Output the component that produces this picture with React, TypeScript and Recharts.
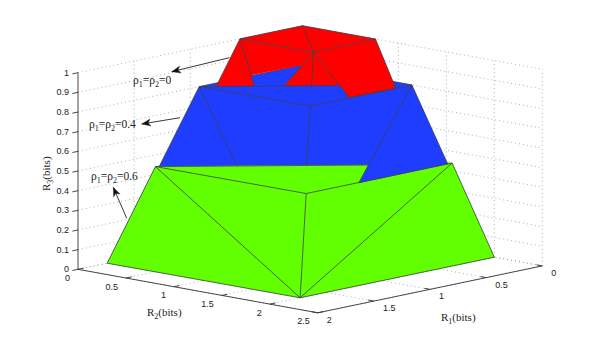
import { ScatterChart, Scatter, XAxis, YAxis } from 'recharts'

type P3 = number[]

const r1Ticks = [0, 0.5, 1, 1.5, 2]
const r2Ticks = [0, 0.5, 1, 1.5, 2, 2.5]
const r3Ticks = [0, 0.1, 0.2, 0.3, 0.4, 0.5, 0.6, 0.7, 0.8, 0.9, 1]

const GREEN = '#62ff00'
const BLUE = '#1f3dff'
const RED = '#ff0000'
const EDGE = '#3f3f4a'

// rho = 0.6 solid
const gA = [1.74, 0, 0]
const gB = [1.73, 2, 0]
const gC = [0, 2, 0]
const gD = [1.31, 0, 0.44]
const gE = [1.3, 1.56, 0.44]
const gF = [0, 1.56, 0.44]
const gBack = [0, 0, 0.44]

// rho = 0.4 solid, the lower points are where it cuts the green top
const bA = [0.92, 0, 0.8]
const bB = [0.9, 1.135, 0.8]
const bC = [0, 1.14, 0.8]
const bBack = [0, 0, 0.8]
const bLowLeft = [1.276, 0, 0.436]
const bLowDiag = [0.952, 0.43, 0.44]
const bLowMid = [0.647, 0.8, 0.44]
const bLowCut = [0.393, 1.143, 0.44]
const bLowNotch = [0.84, 1.57, 0.44]
const bLowRight = [0.04, 1.56, 0.44]

// rho = 0 solid
const rA = [0.556, 0, 1]
const rB = [0, 0, 1]
const rC = [0, 0.76, 1]
const rD = [0.56, 0.77, 1]
const rLowA = [0.825, 0.07, 0.8]
const rLowB = [0.67, 0.28, 0.8]
const rLowC = [0.547, 0.45, 0.8]
const rLowD = [0.432, 0.6, 0.8]
const rLowE = [0.315, 0.76, 0.8]
const rLowF = [0.552, 1.13, 0.8]
const rLowG = [0.144, 1.14, 0.8]
const rWin = [0.45, -0.02, 0.8]

const lowerFaces = [
  { fill: GREEN, pts: [gA, gB, gE, gD] },
  { fill: GREEN, pts: [gB, gC, gF, gE] },
  { fill: GREEN, pts: [gD, gE, gF, gBack] },
  { fill: BLUE, pts: [bA, bBack, bC, bB] },
  { fill: BLUE, pts: [bA, bB, bC, bLowRight, bLowNotch, bLowCut, bLowMid, bLowLeft] },
  { fill: GREEN, pts: [gD, bLowCut, bLowNotch, gE] },
]

const lowerEdges = [
  [gA, gB], [gB, gC], [gA, gD], [gC, gF], [gE, gB], [gD, gB], [gF, gB], [gD, gE], [gE, gF],
  [gD, bLowCut], [bA, bLowLeft], [bC, bLowRight], [bA, bLowDiag], [bB, bLowMid], [bC, bLowNotch],
  [bA, bBack], [bBack, bC],
]

const redFaces = [
  { fill: RED, pts: [rA, rB, rC, rD] },
  { fill: RED, pts: [rA, rLowA, rLowB] },
  { fill: RED, pts: [rA, rD, bBack, rWin] },
  { fill: RED, pts: [rD, bBack, rLowC, rLowE, rLowF] },
  { fill: RED, pts: [rD, rC, rLowG, rLowF] },
  { fill: BLUE, pts: [bA, rLowE, rLowF, bB] },
]

const upperEdges = [
  [rA, rB], [rB, rC], [rA, rLowA], [rC, rLowG], [rA, rLowB], [rA, rD], [rB, rD], [rC, rD],
  [rD, rLowC], [rD, rLowD], [rD, rLowF], [bA, rLowE], [bA, bB], [bB, bC], [rLowF, rLowG],
]

const annotationTexts = [
  { x: 133, y: 84, value: '0' },
  { x: 89, y: 128, value: '0.4' },
  { x: 91, y: 180, value: '0.6' },
]

const arrows = [
  { from: { x: 229.3, y: 57.7 }, to: { x: 171.7, y: 71.7 } },
  { from: { x: 180, y: 117.7 }, to: { x: 141.7, y: 124 } },
  { from: { x: 126.7, y: 218.3 }, to: { x: 113.3, y: 187.3 } },
]

const axisTitles = [
  { x: 147, y: 316, sub: '2', rotate: 0 },
  { x: 441, y: 321, sub: '1', rotate: 0 },
  { x: 50, y: 191, sub: '3', rotate: -90 },
]

// MATLAB style orthographic view of the R1, R2, R3 box
const project = ([r1, r2, r3]: P3) => ({
  x: 78 + 95.9 * r2 + 112.25 * (2 - r1),
  y: 269.3 + 17.4 * r2 - 23.45 * (2 - r1) - 196.6 * r3,
})

const closed = (pts: P3[]) => [...pts, pts[0]].map(project)

const arrowHead = ({ from, to }: (typeof arrows)[number]) => {
  const len = Math.hypot(to.x - from.x, to.y - from.y)
  const ux = (to.x - from.x) / len
  const uy = (to.y - from.y) / len
  const at = (back: number, side: number) => ({
    x: to.x - ux * back - uy * side,
    y: to.y - uy * back + ux * side,
  })
  const pts = [at(0, 0), at(9, 3.6), at(6.5, 0), at(9, -3.6)]
  return [...pts, pts[0]]
}

const noDot = () => null

const gridLines: P3[][] = [
  ...r3Ticks.flatMap((z) => [
    [[2, 0, z], [0, 0, z]],
    [[0, 0, z], [0, 2.5, z]],
  ]),
  ...r1Ticks.filter((r) => r < 2).map((r) => [[r, 0, 0], [r, 0, 1]]),
  ...r2Ticks.filter((r) => r > 0).map((r) => [[0, r, 0], [0, r, 1]]),
  ...r1Ticks.map((r) => [[r, 0, 0], [r, 2.5, 0]]),
  ...r2Ticks.map((r) => [[2, r, 0], [0, r, 0]]),
]

const axisLines: P3[][] = [
  [[2, 0, 0], [2, 0, 1]],
  [[2, 0, 0], [2, 2.5, 0]],
  [[2, 2.5, 0], [0, 2.5, 0]],
  ...r3Ticks.map((z) => [[2, 0, z], [2.05, 0, z]]),
  ...r2Ticks.map((r) => [[2, r, 0], [1.95, r, 0]]),
  ...r1Ticks.map((r) => [[r, 2.5, 0], [r, 2.44, 0]]),
]

const tickLabels = [
  ...r3Ticks.map((z) => ({ ...project([2, 0, z]), label: String(z), dx: -9, dy: 3, anchor: 'end' })),
  ...r2Ticks.map((r) => ({ ...project([2, r, 0]), label: String(r), dx: -8, dy: 11.5, anchor: 'end' })),
  ...r1Ticks.map((r) => ({ ...project([r, 2.5, 0]), label: String(r), dx: 9, dy: 10, anchor: 'start' })),
]

const Face = ({ pts, fill, key }: { pts: P3[]; fill: string; key: string }) => (
  <Scatter
    key={key}
    data={closed(pts)}
    line={{ fill, stroke: fill, strokeWidth: 0.4 }}
    shape={noDot}
    isAnimationActive={false}
  />
)

function polyLine(pts: { x: number; y: number }[], stroke: string, width: number, dash?: string, key?: string | number) {
  return (
    <Scatter
      key={key}
      data={pts}
      line={{ fill: 'none', stroke, strokeWidth: width, strokeDasharray: dash }}
      shape={noDot}
      isAnimationActive={false}
    />
  )
}

const tickShape = (p: any) => (
  <text
    x={p.cx + p.payload.dx}
    y={p.cy + p.payload.dy}
    textAnchor={p.payload.anchor}
    fontFamily="Liberation Sans"
    fontSize={9}
    fill="#222"
  >
    {p.payload.label}
  </text>
)

const annotationShape = (p: any) => (
  <text x={p.cx} y={p.cy} fontFamily="Liberation Serif" fontSize={11.5} fill="#222">
    ρ<tspan fontSize={8} dy={3}>1</tspan>
    <tspan dy={-3}>=ρ</tspan>
    <tspan fontSize={8} dy={3}>2</tspan>
    <tspan dy={-3}>={p.payload.value}</tspan>
  </text>
)

const titleShape = (p: any) => (
  <text
    x={p.cx}
    y={p.cy}
    transform={p.payload.rotate ? `rotate(${p.payload.rotate} ${p.cx} ${p.cy})` : undefined}
    fontFamily="Liberation Serif"
    fontSize={11}
    fill="#222"
  >
    R<tspan fontSize={8} dy={3}>{p.payload.sub}</tspan>
    <tspan dy={-3}>(bits)</tspan>
  </text>
)

export default function App() {
  return (
    <div style={{ position: 'absolute', left: 0, top: 0, width: 599, height: 352, background: '#fff' }}>
      <ScatterChart width={599} height={352} margin={{ top: 0, right: 0, bottom: 0, left: 0 }}>
        <XAxis type="number" dataKey="x" domain={[0, 599]} hide />
        <YAxis type="number" dataKey="y" domain={[0, 352]} reversed hide />
        {gridLines.map((l, i) => polyLine(l.map(project), '#9a9a9a', 0.8, '1 3', `g${i}`))}
        {axisLines.map((l, i) => polyLine(l.map(project), '#333', 0.9, undefined, `a${i}`))}
        {lowerFaces.map((f, i) => Face({ ...f, key: `lf${i}` }))}
        {lowerEdges.map((l, i) => polyLine(l.map(project), EDGE, 0.8, undefined, `le${i}`))}
        {redFaces.map((f, i) => Face({ ...f, key: `rf${i}` }))}
        {upperEdges.map((l, i) => polyLine(l.map(project), EDGE, 0.8, undefined, `ue${i}`))}
        {arrows.map((a, i) => polyLine([a.from, a.to], '#222', 0.9, undefined, `ar${i}`))}
        {arrows.map((a, i) => (
          <Scatter
            key={`ah${i}`}
            data={arrowHead(a)}
            line={{ fill: '#111', stroke: '#111', strokeWidth: 0.3 }}
            shape={noDot}
            isAnimationActive={false}
          />
        ))}
        <Scatter data={tickLabels} shape={tickShape} isAnimationActive={false} />
        <Scatter data={annotationTexts} shape={annotationShape} isAnimationActive={false} />
        <Scatter data={axisTitles} shape={titleShape} isAnimationActive={false} />
      </ScatterChart>
    </div>
  )
}
